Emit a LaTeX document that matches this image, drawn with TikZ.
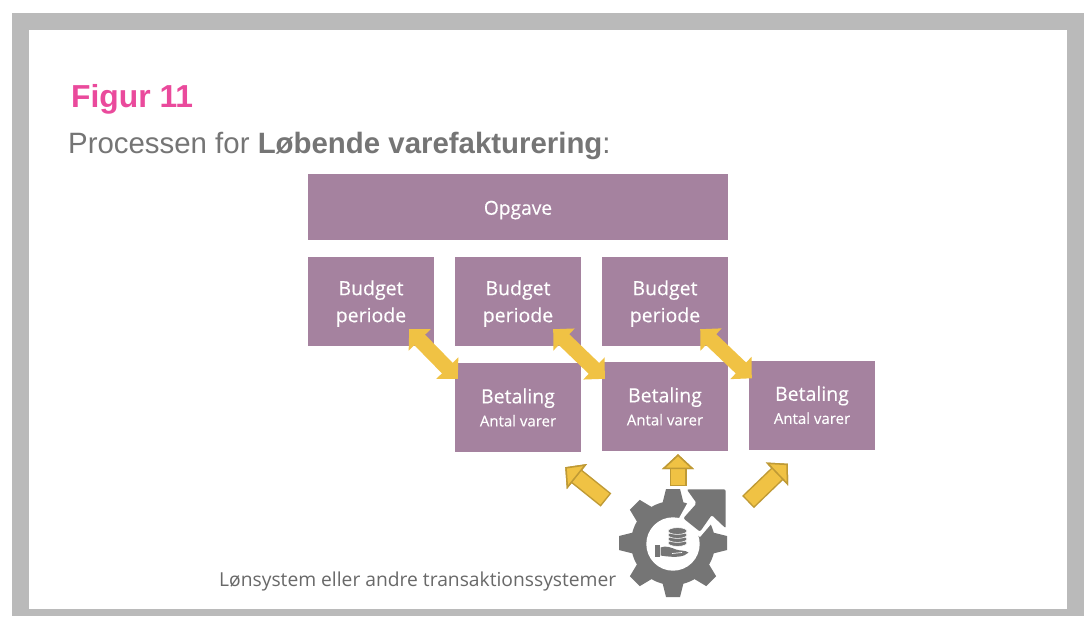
\documentclass[tikz,border=0pt]{standalone}
\usepackage{fontspec}
\setmainfont{Liberation Sans}
\newfontfamily\boxfont[FakeBold=0.3]{Open Sans}
\newfontfamily\labelfont{Open Sans}
\usetikzlibrary{arrows.meta}
\definecolor{lilla}{HTML}{A5829F}
\definecolor{gul}{HTML}{F0C244}
\definecolor{gulkant}{HTML}{BF9A35}
\definecolor{ikon}{HTML}{757575}
\definecolor{rosa}{HTML}{EA4A9C}
\newcommand{\lav}[1]{\rule{0pt}{#1}}
\tikzset{
    boks/.style={fill=lilla,text=white,inner sep=0pt,align=center,font=\boxfont},
    bud/.style={boks,minimum width=126pt,minimum height=89pt,font=\boxfont\fontsize{19.5}{27}\selectfont},
    bet/.style={boks,minimum width=126pt,minimum height=89pt},
    dobbeltpil/.style={line width=15pt,draw=gul,
        {Triangle[length=15pt,width=30pt,fill=gul]}-{Triangle[length=15pt,width=30pt,fill=gul]}},
    pil/.style={line width=14pt,draw=gul,shorten <=1.5pt,
        -{Triangle[length=15pt,width=32pt,fill=gul,color=gulkant,line width=1.5pt]},
        preaction={draw=gulkant,line width=17pt,shorten <=0pt,
        -{Triangle[length=15pt,width=32pt,fill=gul,color=gulkant,line width=1.5pt]}}}
}
\begin{document}
\begin{tikzpicture}[x=1pt,y=-1pt]
    \useasboundingbox (0,0) rectangle (1089,616);
    \fill[white] (0,0) rectangle (1089,616);
    \fill[black!27] (12,13) rectangle (1084,616);
    \fill[white] (29,30) rectangle (1067,609);
    \node[anchor=base west,inner sep=0pt,text=rosa,font=\fontsize{31.8}{32}\selectfont\bfseries] (figur) at (71,107) {Figur 11};
    \node[anchor=base west,inner sep=0pt,text=ikon,font=\fontsize{29.4}{30}\selectfont] (titel) at (68,153) {Processen for \textbf{Løbende varefakturering}:};
    \node[boks,minimum width=420pt,minimum height=66pt,font=\boxfont\fontsize{19.2}{24}\selectfont] (opgave) at (518,207) {\lav{20pt}Opgave};
    \node[bud] (bud1) at (371,301.5) {\lav{19pt}Budget\\periode};
    \node[bud] (bud2) at (518,301.5) {\lav{19pt}Budget\\periode};
    \node[bud] (bud3) at (665,301.5) {\lav{19pt}Budget\\periode};
    \node[bet] (bet1) at (518,407.5) {{\fontsize{19.5}{24}\selectfont Betaling}\\[6pt]{\fontsize{15}{18}\selectfont Antal varer}};
    \node[bet] (bet2) at (665,406.5) {{\fontsize{19.5}{24}\selectfont Betaling}\\[6pt]{\fontsize{15}{18}\selectfont Antal varer}};
    \node[bet] (bet3) at (812,405) {{\fontsize{19.5}{24}\selectfont Betaling}\\[6pt]{\fontsize{15}{18}\selectfont Antal varer}};
    \draw[dobbeltpil] ([shift={(-25,-17)}]bud1.south east) -- ([shift={(3,16)}]bet1.north west);
    \draw[dobbeltpil] ([shift={(-28,-17)}]bud2.south east) -- ([shift={(3,17)}]bet2.north west);
    \draw[dobbeltpil] ([shift={(-28,-17)}]bud3.south east) -- ([shift={(3,18)}]bet3.north west);
    \node[circle,minimum size=108pt,inner sep=0pt] (gear) at (673,543) {};
    \begin{scope}[shift={(673,543)}]
        \fill[ikon] (0,0) circle (42);
        \foreach \a in {0,45,...,315}
            \fill[ikon,rotate=\a] (-11,-38) -- (-7,-54) -- (7,-54) -- (11,-38) -- cycle;
    \end{scope}
    \fill[white] (679,485) -- (688,502) -- (678,520) -- (700,537) -- (712,523) -- (728,535) -- (740,535) -- (740,480) -- cycle;
    \fill[white] (673,544) circle (26.7);
    \fill[ikon,rounded corners=2pt] (686.7,489.3) -- (725.7,489.3) -- (725.7,528.3) -- (711.7,515) -- (700,531.7) -- (683.3,518.3) -- (696.7,503.3) -- cycle;
    \foreach \y in {543,539,535,531}
        \fill[ikon,draw=white,line width=0.6pt] (677.5,\y) ellipse (9.5 and 3.4);
    \fill[ikon] (655,545) rectangle (659.5,556.5);
    \fill[ikon] (660.5,547.5) .. controls (666,545) and (672,548) .. (676,549.5) .. controls (680,551) and (685,550) .. (688.5,552.5) .. controls (684,557) and (676,558) .. (660.5,555.5) -- cycle;
    \draw[white,line width=0.7pt] (672,553.5) -- (682,552.5);
    \draw[pil] ([shift={(-67,-43)}]gear.center) -- ([shift={(-16,15)}]bet1.south east);
    \draw[pil] ([shift={(5,-57)}]gear.center) -- ([shift={(13,3)}]bet2.south);
    \draw[pil] ([shift={(75,-41)}]gear.center) -- ([shift={(39,14)}]bet3.south west);
    \node[anchor=base west,inner sep=0pt,text=ikon!90!black,font=\labelfont\fontsize{19.25}{20}\selectfont] (system) at (219,586) {Lønsystem eller andre transaktionssystemer};
\end{tikzpicture}
\end{document}
